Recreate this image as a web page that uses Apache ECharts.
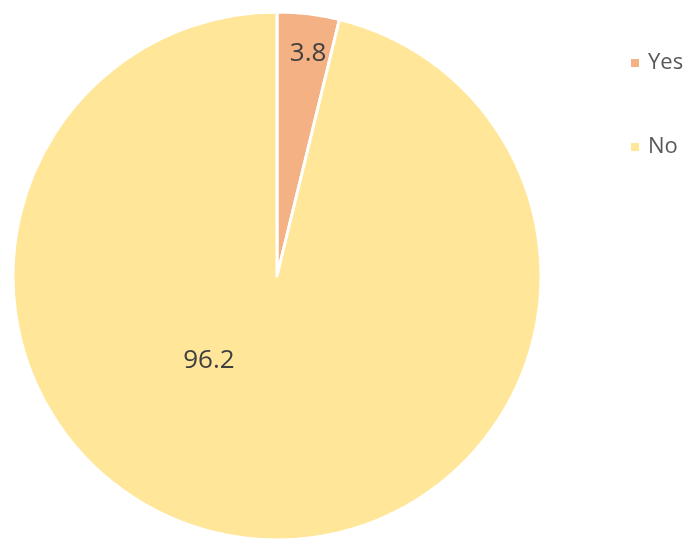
<!DOCTYPE html>
<html>
<head>
<meta charset="utf-8">
<script src="https://cdn.jsdelivr.net/npm/echarts@6/dist/echarts.min.js"></script>
<style>html,body{margin:0;padding:0;background:#fff;}#c{width:696px;height:540px;}</style>
</head>
<body>
<div id="c"></div>
<script>
const categories = ["Yes", "No"];
const values = [3.8, 96.2];
const colors = ["#F4B183", "#FFE699"];
const labelOffsets = [[15, -88], [-52, -49]];

const chart = echarts.init(document.getElementById('c'), null, {renderer: 'canvas'});
chart.setOption({
  animation: false,
  backgroundColor: '#ffffff',
  legend: {
    orient: 'vertical',
    left: 624,
    top: 47,
    itemWidth: 10,
    itemHeight: 10,
    itemGap: 62,
    icon: 'rect',
    textStyle: {fontFamily: 'Open Sans', fontSize: 22, color: '#595959', padding: [0, 0, 0, 3]},
    data: categories
  },
  series: [{
    type: 'pie',
    center: [277, 276],
    radius: [0, 264],
    startAngle: 90,
    clockwise: true,
    itemStyle: {borderColor: '#ffffff', borderWidth: 3},
    label: {
      show: true,
      position: 'inside',
      fontFamily: 'Open Sans',
      fontSize: 26,
      color: '#404040',
      formatter: p => String(p.value)
    },
    labelLine: {show: false},
    emphasis: {disabled: true},
    data: categories.map((c, i) => ({
      name: c,
      value: values[i],
      itemStyle: {color: colors[i]},
      label: {offset: labelOffsets[i]}
    }))
  }]
});
</script>
</body>
</html>
